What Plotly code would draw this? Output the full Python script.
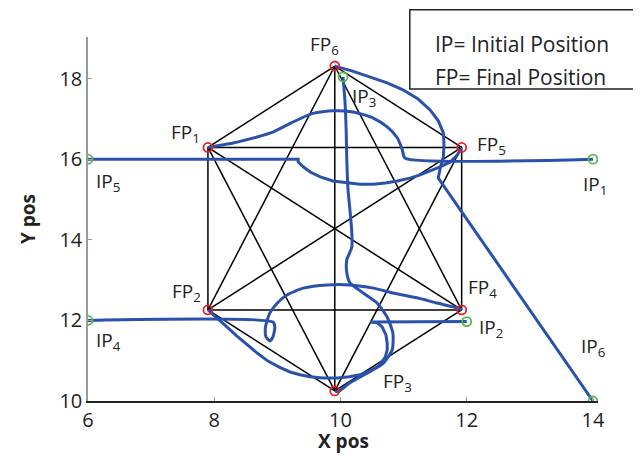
import itertools
import plotly.graph_objects as go

# final positions (FP1..FP6) and initial positions (IP1..IP6)
fp_x = [7.90, 7.90, 9.91, 11.92, 11.92, 9.91]
fp_y = [16.29, 12.26, 10.25, 12.26, 16.29, 18.31]
ip_x = [14.0, 12.0, 10.04, 6.0, 6.0, 14.0]
ip_y = [16.0, 11.97, 18.04, 12.0, 16.0, 10.0]

# trajectories IPk -> FPk
traj1_x = [14.0, 11.02, 10.98, 10.90, 10.74, 10.52, 10.20, 9.88, 9.55, 9.22, 8.93, 8.68, 8.30, 7.93, 7.90]
traj1_y = [16.0, 16.03, 16.23, 16.53, 16.80, 17.02, 17.17, 17.20, 17.13, 16.90, 16.67, 16.55, 16.40, 16.30, 16.29]
traj2_x = [12.0, 10.47, 10.58, 10.66, 10.72, 10.74, 10.74, 10.71, 10.64, 10.58, 10.45, 10.31, 10.14, 9.95,
           9.72, 9.52, 9.36, 9.20, 9.03, 8.85, 8.68, 8.52, 8.36, 8.20, 8.06, 7.97, 7.90]
traj2_y = [11.97, 11.96, 11.94, 11.84, 11.64, 11.44, 11.27, 11.09, 10.94, 10.84, 10.74, 10.65, 10.60, 10.57,
           10.57, 10.60, 10.65, 10.72, 10.84, 10.99, 11.19, 11.39, 11.61, 11.84, 12.03, 12.16, 12.26]
traj3_x = [10.04, 10.07, 10.09, 10.10, 10.12, 10.15, 10.18, 10.18, 10.10, 10.10, 10.15, 10.36, 10.58, 10.74, 10.83, 10.82, 10.68, 10.42, 10.15, 9.96, 9.91]
traj3_y = [18.04, 17.47, 16.72, 15.98, 15.24, 14.74, 14.17, 13.82, 13.50, 13.18, 12.93, 12.68, 12.43, 12.08, 11.69, 11.27, 10.94, 10.69, 10.45, 10.23, 10.25]
traj4_x = [6.0, 8.93, 8.96, 8.93, 8.88, 8.82, 8.81, 8.84, 8.88, 9.00, 9.15, 9.41, 9.79, 10.15, 10.52, 10.83, 11.21, 11.53, 11.85, 11.92]
traj4_y = [12.0, 11.96, 11.84, 11.59, 11.49, 11.59, 11.81, 12.01, 12.18, 12.43, 12.63, 12.80, 12.88, 12.88, 12.80, 12.68, 12.56, 12.43, 12.31, 12.26]
traj5_x = [6.0, 9.33, 9.33, 9.41, 9.52, 9.68, 9.88, 10.10, 10.31, 10.52, 10.71, 10.90, 11.10, 11.26, 11.42,
           11.58, 11.74, 11.85, 11.92]
traj5_y = [16.0, 16.0, 15.93, 15.81, 15.68, 15.56, 15.46, 15.41, 15.38, 15.38, 15.41, 15.46, 15.53, 15.61, 15.71,
           15.81, 15.93, 16.10, 16.29]
traj6_x = [14.0, 11.55, 11.58, 11.63, 11.64, 11.63, 11.55, 11.42, 11.23, 10.99, 10.74, 10.47, 10.18, 9.95, 9.91]
traj6_y = [10.0, 15.53, 15.78, 16.05, 16.35, 16.65, 16.95, 17.22, 17.49, 17.72, 17.89, 18.04, 18.19, 18.29, 18.31]

x_ticks = [6, 8, 10, 12, 14]
y_ticks = [10, 12, 14, 16, 18]

FONT = "Open Sans"
BLUE = "rgb(42, 82, 170)"

fig = go.Figure()

# black lines between every pair of final positions
for i, j in itertools.combinations(range(len(fp_x)), 2):
    fig.add_trace(go.Scatter(
        x=[fp_x[i], fp_x[j]], y=[fp_y[i], fp_y[j]],
        mode="lines", line=dict(color="black", width=1.5),
        hoverinfo="skip"))

trajs = [(traj1_x, traj1_y), (traj2_x, traj2_y), (traj3_x, traj3_y),
         (traj4_x, traj4_y), (traj5_x, traj5_y), (traj6_x, traj6_y)]
# sharp corners on 2, 5, 6 -> keep those straight
shapes_ = ["spline", "linear", "spline", "spline", "linear", "linear"]
for (tx, ty), sh in zip(trajs, shapes_):
    fig.add_trace(go.Scatter(
        x=tx, y=ty, mode="lines",
        line=dict(color=BLUE, width=3, shape=sh, smoothing=0.6)))

fig.add_trace(go.Scatter(
    x=ip_x, y=ip_y, mode="markers",
    marker=dict(symbol="circle-open", size=9, color="rgb(90, 185, 70)",
                line=dict(width=1.8))))
fig.add_trace(go.Scatter(
    x=fp_x, y=fp_y, mode="markers",
    marker=dict(symbol="circle-open", size=9, color="rgb(232, 30, 40)",
                line=dict(width=1.8))))

# label offsets in pixels (dx, dy up)
fp_off = [(-22, 14), (-21, 18), (63, 9), (21, 22), (30, 2), (-10, 21)]
ip_off = [(2, -26), (24, -6), (21, -20), (20, -21), (20, -23), (0, 54)]

annots = []
for k in range(6):
    annots.append(dict(x=fp_x[k], y=fp_y[k], xref="x", yref="y",
                       text="FP<sub>%d</sub>" % (k + 1), showarrow=False,
                       xshift=fp_off[k][0], yshift=fp_off[k][1],
                       font=dict(family=FONT, size=19, color="#222")))
    annots.append(dict(x=ip_x[k], y=ip_y[k], xref="x", yref="y",
                       text="IP<sub>%d</sub>" % (k + 1), showarrow=False,
                       xshift=ip_off[k][0], yshift=ip_off[k][1],
                       font=dict(family=FONT, size=19, color="#222")))

# key box text
annots.append(dict(x=0.676, y=1.025, xref="paper", yref="paper", xanchor="left",
                   text="IP= Initial Position", showarrow=False,
                   font=dict(family=FONT, size=21, color="#222")))
annots.append(dict(x=0.676, y=0.934, xref="paper", yref="paper", xanchor="left",
                   text="FP= Final Position", showarrow=False,
                   font=dict(family=FONT, size=21, color="#222")))
# axis titles as annotations so they don't push the margins
annots.append(dict(x=0.5, y=-0.109, xref="paper", yref="paper", yanchor="middle",
                   text="<b>X pos</b>", showarrow=False,
                   font=dict(family=FONT, size=19, color="#222")))
annots.append(dict(x=-0.147, y=0.5, xref="paper", yref="paper",
                   text="<b>Y pos</b>", showarrow=False, textangle=-90,
                   font=dict(family=FONT, size=19, color="#222")))

# page body has an 8px margin, so the figure is shrunk to fit the window
fig.update_layout(
    width=633, height=446,
    margin=dict(l=80, r=43, t=29, b=53),
    plot_bgcolor="white", paper_bgcolor="white",
    showlegend=False,
    annotations=annots,
    shapes=[dict(type="rect", xref="paper", yref="paper",
                 x0=0.631, x1=1.072, y0=0.857, y1=1.075,
                 line=dict(color="#222", width=1.5), fillcolor="white")],
    font=dict(family=FONT, size=20, color="#222"),
)
fig.update_xaxes(
    range=[6, 14.08], tickvals=x_ticks, showgrid=False, zeroline=False,
    showline=True, linecolor="#222", linewidth=1.5, automargin=False,
    ticks="inside", ticklen=4, tickcolor="#999",
    tickfont=dict(size=20))
fig.update_yaxes(
    range=[10, 19.03], tickvals=y_ticks, showgrid=False, zeroline=False,
    showline=True, linecolor="#999", linewidth=1.5, automargin=False,
    ticks="inside", ticklen=4, tickcolor="#999",
    tickfont=dict(size=20))

fig.write_html("out.html")
